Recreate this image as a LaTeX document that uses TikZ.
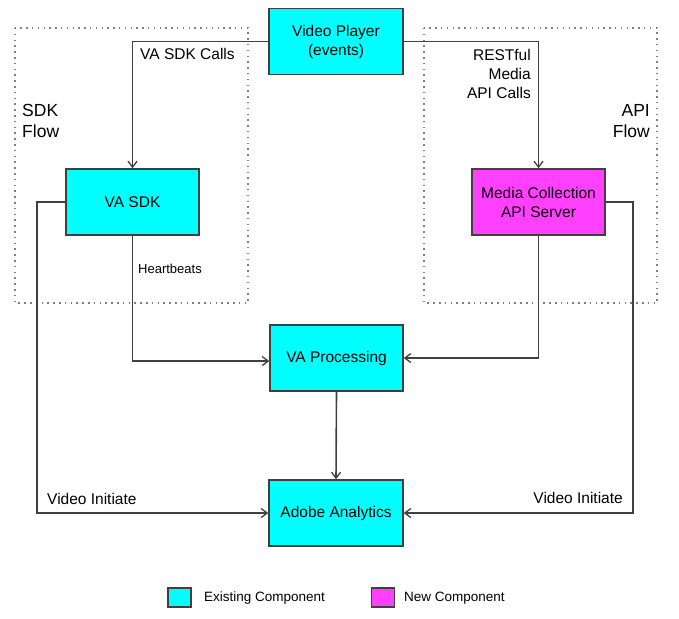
\documentclass[tikz,border=0pt]{standalone}
\usepackage{fontspec}
\setmainfont{Liberation Sans}
\usetikzlibrary{arrows.meta}
\definecolor{boxcyan}{HTML}{00FFFF}
\definecolor{boxmag}{HTML}{FF40FF}
\definecolor{linegray}{HTML}{404040}
\begin{document}
\begin{tikzpicture}[x=1pt,y=-1pt,
  comp/.style={draw=linegray,line width=1.5pt,rectangle,minimum width=134pt,minimum height=66pt,align=center,inner sep=0pt,font=\fontsize{15.5}{19}\selectfont},
  existing/.style={comp,fill=boxcyan},
  newcomp/.style={comp,fill=boxmag},
  conn/.style={draw=linegray,line width=1.6pt,-{Straight Barb[length=6pt,width=9pt,line width=1.3pt]}},
  flowbox/.style={draw=gray,line width=1.5pt,dash pattern=on 1.5pt off 4.3pt},
  lbl/.style={inner sep=0pt,font=\fontsize{15.5}{19}\selectfont},
  flowlbl/.style={inner sep=0pt,font=\fontsize{17.5}{21}\selectfont},
  smalllbl/.style={inner sep=0pt,font=\fontsize{13}{16}\selectfont},
  legendtxt/.style={inner sep=0pt,font=\fontsize{13.5}{16}\selectfont},
  legendbox/.style={draw=linegray,line width=1.4pt,minimum width=23pt,minimum height=19pt,inner sep=0pt}
]
\useasboundingbox (0,0) rectangle (679,618);
% flow regions
\draw[flowbox] (15,28) rectangle (248,303);
\draw[flowbox] (424,28) rectangle (657,303);
\node[flowlbl,anchor=north west,align=left] (sdkflow) at (22,104) {SDK\\Flow};
\node[flowlbl,anchor=north east,align=right] (apiflow) at (650,104) {API\\Flow};
% components
\node[existing] (vp) at (336,41.5) {Video Player\\(events)};
\node[existing,minimum width=133pt] (vasdk) at (132.5,202) {VA SDK};
\node[newcomp,minimum width=133pt] (media) at (538.5,202) {Media Collection\\API Server};
\node[existing,minimum width=133pt] (vaproc) at (336.5,358) {VA Processing};
\node[existing] (adobe) at (336,513) {Adobe Analytics};
% connectors
\draw[conn] (vp.west) -| (vasdk.north);
\draw[conn] (vp.east) -| (media.north);
\draw[conn] (vasdk.south) |- ([yshift=-3pt]vaproc.west);
\draw[conn] (media.south) |- (vaproc.east);
\draw[conn] (vaproc.south) -- (adobe.north);
\draw[conn] (vasdk.west) -- ++(-28,0) coordinate (lcorner) |- (adobe.west);
\draw[conn] (media.east) -- ++(27,0) coordinate (rcorner) |- (adobe.east);
% labels
\node[lbl,anchor=west] (l1) at (140,54) {VA SDK Calls};
\node[lbl,anchor=north east,align=right] (l2) at (531,49) {RESTful\\Media\\API Calls};
\node[smalllbl,anchor=west] (l3) at (138,269) {Heartbeats};
\node[lbl,anchor=west] (l4) at (47,498.5) {Video Initiate};
\node[lbl,anchor=east] (l5) at (623,497.5) {Video Initiate};
% legend
\node[legendbox,fill=boxcyan] (lg1) at (179.5,597.5) {};
\node[legendtxt,anchor=west] (lg1t) at (204,598.5) {Existing Component};
\node[legendbox,fill=boxmag] (lg2) at (383,597.5) {};
\node[legendtxt,anchor=west] (lg2t) at (404,598.5) {New Component};
\end{tikzpicture}
\end{document}
